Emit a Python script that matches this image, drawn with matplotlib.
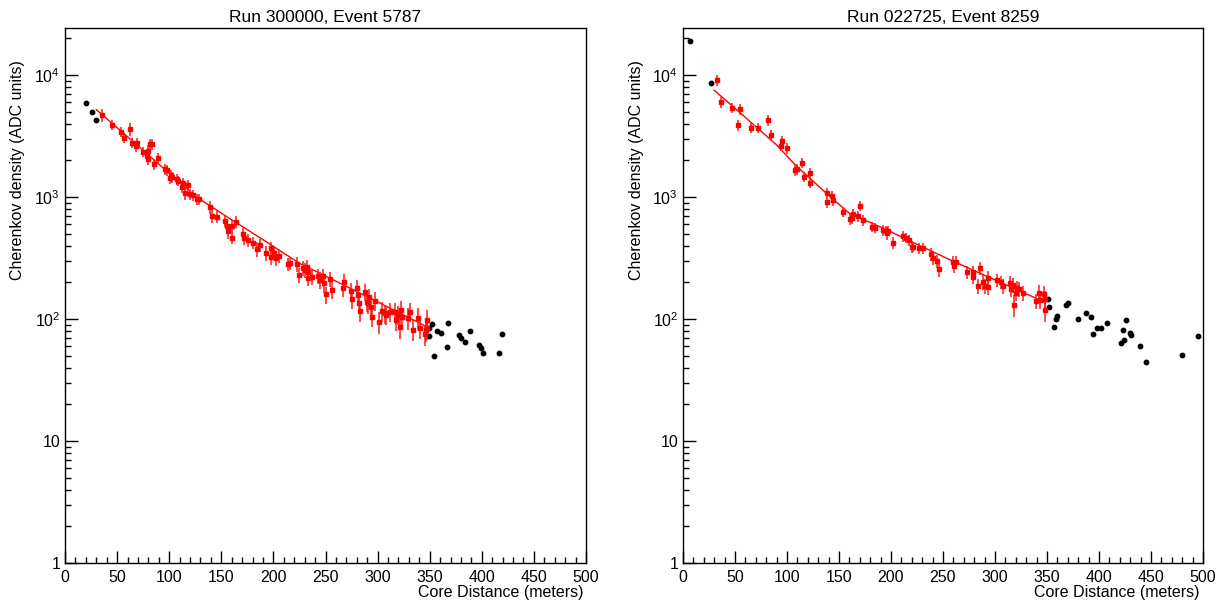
import matplotlib
matplotlib.use('Agg')
import matplotlib.pyplot as plt
from matplotlib.ticker import LogLocator, FixedLocator, MultipleLocator, FuncFormatter

plt.rcParams['font.family'] = ['Liberation Sans', 'DejaVu Sans']
plt.rcParams['mathtext.default'] = 'regular'

# ---- left event: Run 300000, Event 5787 ----
left_title = 'Run 300000, Event 5787'
left_x = [35.2, 44.8, 53.4, 56.6, 62.4, 64.6, 67.8, 68.8,
          75.1, 79.0, 79.4, 79.9, 81.6, 83.2, 85.4, 88.9,
          96.0, 97.6, 100.8, 101.7, 103.0, 107.2, 108.7, 112.0,
          113.4, 115.2, 118.3, 120.0, 123.1, 127.0, 128.9, 139.1,
          140.7, 145.6, 153.5, 155.2, 156.8, 160.0, 160.0, 164.2,
          171.1, 172.1, 175.9, 180.1, 184.5, 187.1, 192.9, 197.4,
          197.7, 200.6, 202.6, 205.4, 214.3, 215.9, 222.3, 224.9,
          228.7, 230.3, 231.9, 233.5, 233.5, 236.7, 243.1, 244.7,
          247.3, 248.6, 250.2, 254.3, 255.9, 267.1, 268.0, 274.5,
          275.2, 279.9, 281.5, 282.5, 283.1, 287.9, 289.5, 291.1,
          292.0, 293.4, 294.3, 297.5, 301.3, 303.9, 307.1, 308.0,
          311.9, 316.7, 317.7, 319.9, 321.4, 322.2, 323.1, 329.5,
          331.1, 333.7, 338.5, 340.8, 345.6, 346.4, 347.1, 347.1]
left_y = [4700, 3900, 3430, 3060, 3610, 2790, 2620, 2790,
          2350, 2170, 2040, 2380, 2700, 2720, 1860, 2100,
          1690, 1660, 1420, 1510, 1450, 1400, 1360, 1217,
          1310, 1072, 1254, 1059, 1038, 955, 955, 824,
          698, 690, 640, 578, 526, 578, 464, 628,
          494, 458, 444, 422, 372, 404, 350, 384,
          321, 345, 314, 328, 283, 286, 283, 230,
          260, 252, 269, 244, 215, 222, 225, 209,
          225, 196, 159, 211, 173, 179, 202, 171,
          146, 179, 157, 136, 116, 168, 139, 134,
          151, 126, 104, 141, 95, 116, 111, 108,
          115, 115, 98, 108, 86, 119, 103, 102,
          115, 82, 102, 85, 75, 81, 84, 98]
left_err = [0.12, 0.10, 0.10, 0.10, 0.12, 0.10, 0.10, 0.10,
            0.10, 0.10, 0.10, 0.12, 0.10, 0.10, 0.10, 0.10,
            0.10, 0.10, 0.10, 0.10, 0.10, 0.10, 0.10, 0.12,
            0.10, 0.12, 0.10, 0.10, 0.10, 0.10, 0.10, 0.12,
            0.12, 0.12, 0.12, 0.12, 0.14, 0.12, 0.12, 0.12,
            0.12, 0.12, 0.12, 0.12, 0.14, 0.12, 0.14, 0.12,
            0.14, 0.12, 0.14, 0.12, 0.12, 0.12, 0.14, 0.14,
            0.14, 0.14, 0.14, 0.14, 0.14, 0.14, 0.14, 0.16,
            0.14, 0.16, 0.16, 0.14, 0.16, 0.16, 0.16, 0.16,
            0.18, 0.16, 0.16, 0.18, 0.18, 0.16, 0.18, 0.18,
            0.16, 0.18, 0.18, 0.18, 0.20, 0.18, 0.18, 0.18,
            0.18, 0.18, 0.18, 0.18, 0.20, 0.18, 0.18, 0.20,
            0.18, 0.20, 0.20, 0.20, 0.20, 0.20, 0.20, 0.20]
# detectors not used in the fit
left_bx = [20.2, 26.2, 29.4, 349.3, 349.6, 352.5, 354.0, 356.7, 360.5,
           366.3, 367.5, 378.1, 379.7, 383.8, 388.6, 397.6, 398.9,
           401.4, 416.5, 419.4]
left_by = [5900, 5000, 4300, 73, 84, 91, 50, 79, 77,
           59, 92, 74, 70, 65, 79, 61, 58,
           53, 53, 76]
# fitted lateral distribution
left_fx = [30, 60, 90, 126, 160, 190, 225, 260, 300, 349]
left_fy = [5200, 3120, 1860, 1000, 650, 447, 286, 204, 138, 85]

# ---- right event: Run 022725, Event 8259 ----
right_title = 'Run 022725, Event 8259'
right_x = [33.0, 36.2, 46.8, 53.2, 54.8, 65.1, 71.8, 81.4,
           84.6, 94.2, 95.5, 100.3, 107.7, 109.9, 114.1, 116.3,
           122.1, 122.1, 138.2, 138.8, 143.0, 144.0, 153.9, 160.6,
           162.2, 163.8, 168.0, 170.2, 172.8, 181.4, 184.3, 192.0,
           195.2, 196.4, 197.4, 201.6, 211.8, 214.4, 217.6, 219.9,
           221.5, 226.9, 231.0, 238.5, 240.1, 243.9, 246.2, 259.9,
           260.6, 262.5, 273.4, 278.5, 278.5, 283.9, 285.6, 288.7,
           290.4, 293.6, 293.6, 301.6, 305.4, 307.4, 314.4, 315.4,
           317.6, 318.3, 319.9, 320.9, 323.1, 326.6, 339.1, 342.3,
           343.3, 347.4, 348.1, 348.1]
right_y = [9100, 5970, 5400, 3890, 5260, 3700, 3700, 4280,
           3220, 2630, 2890, 2510, 1660, 1690, 1910, 1470,
           1560, 1310, 1085, 905, 1020, 945, 758, 660,
           668, 721, 698, 849, 648, 571, 560, 537,
           530, 504, 530, 422, 479, 464, 444, 392,
           392, 380, 380, 339, 314, 299, 255, 295,
           272, 295, 244, 241, 220, 188, 263, 202,
           186, 218, 184, 209, 202, 186, 196, 175,
           190, 130, 163, 181, 175, 163, 141, 164,
           143, 160, 119, 145]
right_err = [0.10, 0.10, 0.10, 0.10, 0.10, 0.10, 0.10, 0.10,
             0.10, 0.10, 0.10, 0.10, 0.10, 0.10, 0.10, 0.10,
             0.10, 0.10, 0.10, 0.10, 0.10, 0.10, 0.10, 0.10,
             0.10, 0.10, 0.10, 0.10, 0.10, 0.10, 0.10, 0.10,
             0.10, 0.12, 0.10, 0.12, 0.10, 0.10, 0.10, 0.12,
             0.10, 0.10, 0.10, 0.12, 0.12, 0.12, 0.14, 0.12,
             0.12, 0.12, 0.12, 0.12, 0.12, 0.14, 0.12, 0.14,
             0.14, 0.14, 0.14, 0.12, 0.12, 0.14, 0.14, 0.14,
             0.14, 0.20, 0.14, 0.14, 0.14, 0.14, 0.14, 0.16,
             0.16, 0.16, 0.20, 0.18]
right_bx = [6.7, 26.9, 350.7, 352.2, 356.7, 358.3, 359.9, 368.3, 370.5,
            379.5, 387.2, 392.0, 394.6, 397.8, 401.6, 407.4, 420.9,
            423.4, 424.0, 425.7, 429.8, 430.5, 439.4, 444.9, 479.5, 495.5]
right_by = [19000, 8650, 145, 126, 86, 100, 106, 130, 134,
            100, 113, 103, 75, 84, 85, 93, 63,
            81, 67, 98, 77, 74, 60, 44, 51, 72]
right_fx = [30, 60, 90, 108, 138, 160, 193, 225, 257, 300, 345]
right_fy = [7500, 4490, 2670, 1830, 1070, 735, 553, 409, 305, 209, 141]

ylab = 'Cherenkov density (ADC units)'
xlab = 'Core Distance (meters)'
ytick_names = {1: '1', 10: '10', 100: '$10^{2}$', 1000: '$10^{3}$', 10000: '$10^{4}$'}

fig = plt.figure(figsize=(12.29, 6.02), dpi=100)
ax1 = fig.add_axes([65/1229, 39/602, 521/1229, 535/602])
ax2 = fig.add_axes([683/1229, 39/602, 520/1229, 535/602])

panels = [(ax1, left_title, left_x, left_y, left_err, left_bx, left_by, left_fx, left_fy),
          (ax2, right_title, right_x, right_y, right_err, right_bx, right_by, right_fx, right_fy)]

for ax, title, x, y, err, bx, by, fx, fy in panels:
    yerr = [v * e for v, e in zip(y, err)]
    ax.plot(bx, by, 'o', color='black', markersize=3.2, zorder=3)
    ax.plot(fx, fy, '-', color='red', linewidth=1.0, zorder=2)
    ax.errorbar(x, y, yerr=yerr, fmt='s', color='red', markersize=3.0,
                elinewidth=1.4, ecolor=(1, 0.1, 0.1, 0.8), capsize=0, zorder=4)
    ax.set_yscale('log')
    ax.set_xlim(0, 500)
    ax.set_ylim(1, 24270)
    ax.xaxis.set_major_locator(MultipleLocator(50))
    ax.xaxis.set_minor_locator(MultipleLocator(10))
    ax.yaxis.set_major_locator(FixedLocator([1, 10, 100, 1000, 10000]))
    ax.yaxis.set_minor_locator(LogLocator(base=10, subs=range(2, 10)))
    ax.yaxis.set_major_formatter(FuncFormatter(lambda v, p: ytick_names.get(int(round(v)), '')))
    ax.tick_params(which='both', direction='in', top=False, right=False, labelsize=11.5)
    ax.tick_params(which='major', length=9, width=1)
    ax.tick_params(which='minor', length=4.5, width=1)
    ax.tick_params(axis='x', pad=5)
    for s in ax.spines.values():
        s.set_linewidth(1.0)
    ax.set_title(title, fontsize=12.5, pad=4)
    pos = ax.get_position()
    fig.text(pos.x1 - 3/1229, 1 - 592/602, xlab, ha='right', va='center', fontsize=11.5)
    fig.text(pos.x0 - 47/1229, 1 - 60/602, ylab, ha='center', va='top',
             rotation=90, fontsize=11.5)

plt.savefig('out.png', dpi=100)
